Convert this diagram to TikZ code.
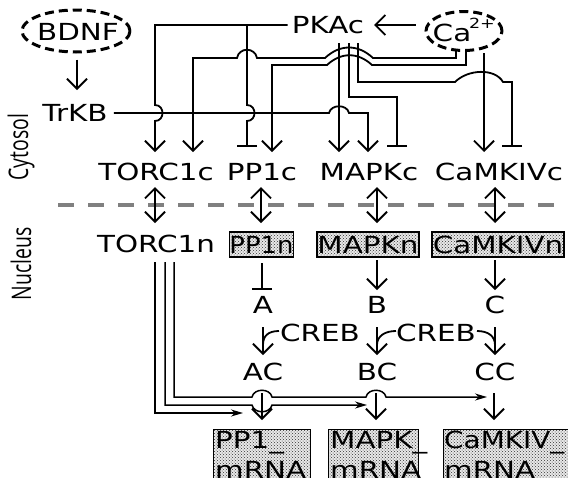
\documentclass[tikz,border=0pt]{standalone}
\usepackage{fontspec}
\setmainfont{DejaVu Sans}[FakeStretch=1.25]
\newfontfamily\sidefont{Open Sans}
\usetikzlibrary{arrows.meta,patterns,shapes.geometric}
\tikzset{
  lw/.style={line width=1.8pt},
  act/.style={lw,-{Straight Barb[length=10pt,width=20pt]}},
  inh/.style={lw,-{Bar[width=20pt]}},
  dbl/.style={lw,{Straight Barb[length=10pt,width=20pt]}-{Straight Barb[length=10pt,width=20pt]}},
  thinw/.style={line width=1.5pt,-{Stealth[length=12pt,width=7pt]}},
  lbl/.style={inner sep=0pt, font=\fontsize{23.5}{30}\selectfont},
  shbox/.style={draw, line width=1.4pt, inner sep=0pt, preaction={fill=gray!18}, pattern=crosshatch dots, pattern color=black!80},
  sig/.style={draw, line width=3pt, dash pattern=on 9pt off 5pt, inner sep=0pt},
  side/.style={rotate=90, inner sep=0pt, font=\sidefont\fontsize{27}{27}\selectfont},
}
\begin{document}
\begin{tikzpicture}[x=1pt,y=-1pt]
\useasboundingbox (0,0) rectangle (568,477);
\clip (0,0) rectangle (568,477);

% side labels and separator
\node[side] (cyt) at (21,147) {\scalebox{0.72}[1]{Cytosol}};
\node[side] (nuc) at (21,264) {\scalebox{0.72}[1]{Nucleus}};
\draw[gray, line width=4pt, dash pattern=on 16pt off 14pt] (58,205) -- (568,205);

% signals
\node[sig, ellipse, minimum width=108pt, minimum height=42pt] (bdnf) at (76,31) {};
\node[lbl] (bdnft) at (78,32) {BDNF};
\node[sig, ellipse, minimum width=76pt, minimum height=39pt] (ca) at (464,31) {};
\node[lbl] (cat) at (452,33) {Ca};
\node[inner sep=0pt, font=\fontsize{14}{14}\selectfont] (cas) at (482,23) {2+};
\node[lbl] (trkb) at (75,113) {TrKB};
\node[lbl] (pkac) at (328,25) {PKAc};

% cytosol row
\node[lbl] (torc1c) at (156,172) {TORC1c};
\node[lbl] (pp1c) at (262,172) {PP1c};
\node[lbl] (mapkc) at (369,172) {MAPKc};
\node[lbl] (camkivc) at (499,172) {CaMKIVc};

% nucleus row
\node[lbl] (torc1n) at (156,244) {TORC1n};
\node[shbox, minimum width=64pt, minimum height=25pt] (pp1n) at (261.5,244.5) {};
\node[lbl] at (pp1n) {\scalebox{0.88}[1]{PP1n}};
\node[shbox, minimum width=102pt, minimum height=25pt] (mapkn) at (368,244.5) {};
\node[lbl] at (mapkn) {MAPKn};
\node[shbox, minimum width=132pt, minimum height=25pt] (camkivn) at (498,244.5) {};
\node[lbl] at (camkivn) {CaMKIVn};

\node[lbl] (a) at (263,305) {A};
\node[lbl] (b) at (377,305) {B};
\node[lbl] (c) at (495,305) {C};
\node[lbl] (creb1) at (320,333) {CREB};
\node[lbl] (creb2) at (436,333) {CREB};
\node[lbl] (ac) at (263,372) {AC};
\node[lbl] (bc) at (377,372) {BC};
\node[lbl] (cc) at (495,372) {CC};

% mRNA boxes
\node[shbox, anchor=north west, minimum width=97pt, minimum height=70pt] (pp1m) at (213,429) {};
\node[lbl, anchor=north west, align=left] at (215,431) {PP1\_\\mRNA};
\node[shbox, anchor=north west, minimum width=90pt, minimum height=70pt] (mapkm) at (328,429) {};
\node[lbl, anchor=north west, align=left] at (330,431) {MAPK\_\\mRNA};
\node[shbox, anchor=north west, minimum width=140pt, minimum height=70pt] (camkivm) at (443,429) {};
\node[lbl, anchor=north west, align=left] at (444,431) {\scalebox{0.95}[1]{CaMKIV\_}\\mRNA};

% top connectors
\draw[act] (bdnf.south) ++(1,6) -- (77,90);
\draw[act] (ca.west) ++(-9,-6) -- (374,25);
\draw[act] (pkac.west) ++(-4,0) -- (155,25) -- (155,105) .. controls (165,105) and (165,121) .. (155,121) -- (155,152);
\draw[inh] (247,25) -- (247,105) .. controls (257,105) and (257,121) .. (247,121) -- (247,147);
\draw[act] (456,50) -- (456,58) -- (373,58) .. controls (358,44) and (340,44) .. (325,58) -- (257,58) .. controls (255,47) and (239,47) .. (237,58) -- (193,58) -- (193,152);
\draw[act] (466,50) -- (466,65) -- (372,65) .. controls (358,52) and (341,52) .. (327,65) -- (272,65) -- (272,152);
\draw[act] (484,53) -- (484,152);
\draw[act] (339,43) -- (339,152);
\draw[inh] (349,43) -- (349,97) -- (397,97) -- (397,147);
\draw[inh] (358,43) -- (358,82) -- (455,82) .. controls (468,69) and (495,68) .. (503,82) -- (512,82) -- (512,147);
\draw[act] (trkb.east) ++(6,0) -- (329,113) .. controls (331,104) and (347,104) .. (349,113) -- (368,113) -- (368,152);

% translocation
\draw[dbl] (155,187) -- (155,223);
\draw[dbl] (261,187) -- (261,223);
\draw[dbl] (377,187) -- (377,223);
\draw[dbl] (495,187) -- (495,223);

% nucleus
\draw[inh] (262,263) -- (262,290);
\draw[act] (377,260) -- (377,290);
\draw[act] (495,260) -- (495,290);
\draw[act] (263,327) -- (263,355);
\draw[act] (377,327) -- (377,355);
\draw[act] (495,327) -- (495,355);
\draw[lw] (279,331) .. controls (268,331) and (263,336) .. (263,345);
\draw[lw] (396,331) .. controls (385,331) and (377,336) .. (377,345);
\draw[lw] (477,331) .. controls (488,331) and (495,336) .. (495,345);

% transcription
\draw[act] (262,393) -- (262,420);
\draw[act] (376,393) -- (376,420);
\draw[act] (494,393) -- (494,420);
\draw[thinw] (155,262) -- (155,413) -- (243,413);
\draw[thinw] (165,262) -- (165,405) -- (252,405) .. controls (254,414) and (270,414) .. (272,405) -- (367,405);
\draw[thinw] (174,262) -- (174,397) -- (252,397) .. controls (254,388) and (270,388) .. (272,397) -- (366,397) .. controls (368,388) and (384,388) .. (386,397) -- (487,397);
\end{tikzpicture}
\end{document}
